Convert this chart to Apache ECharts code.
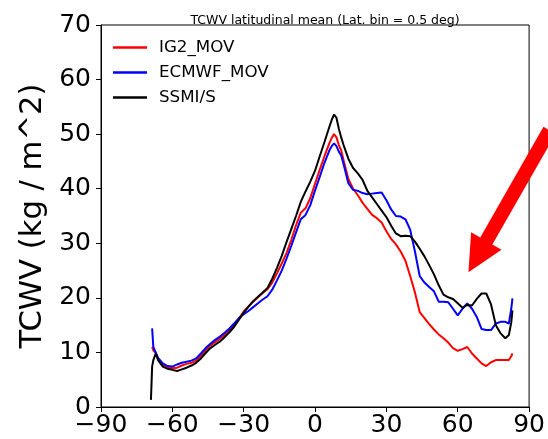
<!DOCTYPE html>
<html>
<head>
<meta charset="utf-8">
<script src="https://cdn.jsdelivr.net/npm/echarts@6/dist/echarts.min.js"></script>
<style>html,body{margin:0;padding:0;background:#fff}#c{width:548px;height:439px}</style>
</head>
<body>
<div id="c"></div>
<script>
// Latitude bins (deg)
const lat = [-69, -68.5, -68, -67, -66, -64, -62, -60, -58, -56, -54, -52, -50, -48, -46, -44, -42, -40, -38, -36, -34, -32, -30,
  -28, -26, -24, -22, -20, -18, -16, -14, -12, -10, -8, -6, -4, -2, 0, 2, 4, 6, 7, 8, 9, 10, 11,
  12, 14, 16, 18, 20, 22, 24, 26, 28, 30, 32, 34, 36, 38, 40, 42, 44, 46, 48, 50, 52, 54, 56, 58, 60, 62, 64, 66, 68, 70, 72, 74, 76, 78, 80,
  81.5, 82.5, 83];

const ig2 = [null, 11.0, 10.4, 9.9, 8.8, 7.8, 7.3, 7.1, 7.2, 7.6, 7.9, 8.1, 8.5, 9.4, 10.4, 11.3, 11.9, 12.5, 13.2, 14.0, 15.1, 16.2, 17.5,
  18.4, 19.3, 20.1, 20.9, 21.6, 22.8, 24.5, 26.3, 28.2, 30.6, 33.3, 35.6, 36.4, 38.3, 40.9, 43.5, 46.0, 48.3, 49.3, 50.0, 49.4, 48.0, 47.0,
  45.2, 41.8, 40.0, 38.8, 37.4, 36.3, 35.2, 34.6, 33.8, 32.2, 30.8, 29.8, 28.5, 26.8, 24.0, 21.0, 17.4, 16.3, 15.2, 14.2, 13.3, 12.6, 11.8, 10.8, 10.3, 10.6, 11.0, 9.8, 8.9, 8.0, 7.5, 8.2, 8.6, 8.6, 8.6,
  8.6, 9.3, 9.8];

const ecmwf = [null, 14.4, 11.0, 10.0, 9.0, 8.0, 7.5, 7.4, 7.8, 8.1, 8.3, 8.5, 8.9, 9.8, 10.8, 11.6, 12.3, 12.9, 13.6, 14.4, 15.3, 16.3, 17.0,
  17.6, 18.3, 19.0, 19.7, 20.3, 21.5, 23.2, 25.0, 27.2, 29.5, 32.0, 34.4, 35.2, 37.0, 39.7, 42.2, 44.8, 47.0, 47.8, 48.3, 47.8, 46.8, 46.1,
  44.5, 41.0, 39.8, 39.6, 39.2, 39.0, 39.1, 39.2, 39.3, 37.9, 36.2, 35.0, 34.9, 34.4, 32.5, 28.5, 24.0, 22.8, 22.0, 21.2, 19.3, 19.3, 19.2, 18.0, 16.8, 18.0, 19.0, 18.0, 16.5, 14.3, 14.1, 14.1, 15.3, 15.6, 15.6,
  15.3, 18.0, 19.9];

const ssmi = [1.3, 7.4, 8.6, 9.8, 8.6, 7.4, 7.0, 6.8, 6.6, 6.9, 7.2, 7.6, 8.1, 8.9, 9.9, 10.8, 11.4, 12.0, 12.8, 13.7, 14.7, 16.0, 17.3,
  18.4, 19.4, 20.2, 21.0, 21.8, 23.5, 25.5, 27.7, 30.2, 32.6, 35.0, 37.6, 39.5, 41.3, 43.3, 46.0, 48.6, 51.3, 52.6, 53.6, 53.0, 51.0, 49.4,
  48.0, 45.5, 43.8, 42.8, 41.6, 39.6, 38.4, 37.2, 36.0, 34.8, 33.2, 31.8, 31.3, 31.4, 31.3, 30.3, 29.0, 27.6, 26.0, 24.3, 22.3, 20.6, 20.1, 19.8, 19.0, 18.2, 18.7, 18.6, 19.8, 20.8, 20.8, 18.8, 15.0, 13.5, 12.6,
  13.2, 15.5, 17.7];

const xTicks = [-90, -60, -30, 0, 30, 60, 90];
const yTicks = [0, 10, 20, 30, 40, 50, 60, 70];
const seriesNames = ['IG2_MOV', 'ECMWF_MOV', 'SSMI/S'];
const seriesColors = ['#ff0000', '#0000ff', '#000000'];
// Annotation arrow (data coords): tip and a point along the shaft beyond the right edge
const arrowTip = [64.5, 24.7];
const arrowTail = [98.6, 50.7];

const FONT = 'DejaVu Sans';
const pairs = vals => lat.map((x, i) => [x, vals[i]]);

const chart = echarts.init(document.getElementById('c'), null, {renderer: 'canvas'});
const option = {
  animation: false,
  backgroundColor: '#fff',
  title: {
    text: 'TCWV latitudinal mean (Lat. bin = 0.5 deg)',
    left: 320, top: 9, textAlign: 'center',
    textStyle: {fontFamily: FONT, fontSize: 12.5, fontWeight: 'normal', color: '#000'}
  },
  legend: {
    orient: 'vertical', left: 113, top: 39, padding: 0,
    icon: 'rect', itemWidth: 34, itemHeight: 2.5, itemGap: 8,
    data: seriesNames,
    textStyle: {fontFamily: FONT, fontSize: 16.7, color: '#000', lineHeight: 16, padding: [0, 0, 0, 7]}
  },
  grid: {left: 101, right: 9, top: 25, bottom: 32, show: true, borderColor: '#000', borderWidth: 1, containLabel: false},
  xAxis: {
    type: 'value', min: xTicks[0], max: xTicks[xTicks.length - 1], interval: 30,
    axisLine: {show: true, onZero: false, lineStyle: {color: '#000', width: 1}},
    axisTick: {show: true, length: 5, lineStyle: {color: '#000'}},
    splitLine: {show: false},
    axisLabel: {
      show: true, margin: 6, fontFamily: FONT, fontSize: 25, color: '#000', showMaxLabel: true, showMinLabel: true,
      formatter: v => String(v).replace('-', '\u2212')
    }
  },
  yAxis: {
    type: 'value', min: yTicks[0], max: yTicks[yTicks.length - 1], interval: 10,
    name: 'TCWV (kg / m^2)', nameLocation: 'middle', nameGap: 41, nameRotate: 90,
    nameTextStyle: {fontFamily: FONT, fontSize: 30.6, color: '#000'},
    axisLine: {show: true, onZero: false, lineStyle: {color: '#000', width: 1}},
    axisTick: {show: true, length: 5, lineStyle: {color: '#000'}},
    splitLine: {show: false},
    axisLabel: {margin: 10, fontFamily: FONT, fontSize: 25, color: '#000'}
  },
  series: [ig2, ecmwf, ssmi].map((vals, i) => ({
    name: seriesNames[i], type: 'line', data: pairs(vals),
    showSymbol: false, symbol: 'none', connectNulls: false,
    lineStyle: {color: seriesColors[i], width: 2},
    itemStyle: {color: seriesColors[i]},
    z: 2 + i
  }))
};
chart.setOption(option);

// Arrow annotation placed from data coordinates
const p0 = chart.convertToPixel({gridIndex: 0}, arrowTip);
const p1 = chart.convertToPixel({gridIndex: 0}, arrowTail);
const dx = p1[0] - p0[0], dy = p1[1] - p0[1];
const len = Math.hypot(dx, dy);
const ux = dx / len, uy = dy / len, nx = -uy, ny = ux;
const headL = 36, headW = 35, shaftW = 14;
const bx = p0[0] + ux * headL, by = p0[1] + uy * headL;
const pts = [
  [p0[0], p0[1]],
  [bx + nx * headW / 2, by + ny * headW / 2],
  [bx + nx * shaftW / 2, by + ny * shaftW / 2],
  [p1[0] + nx * shaftW / 2, p1[1] + ny * shaftW / 2],
  [p1[0] - nx * shaftW / 2, p1[1] - ny * shaftW / 2],
  [bx - nx * shaftW / 2, by - ny * shaftW / 2],
  [bx - nx * headW / 2, by - ny * headW / 2]
];
chart.setOption({graphic: [{type: 'polygon', shape: {points: pts}, style: {fill: '#ff0000'}, z: 100}]});
</script>
</body>
</html>
